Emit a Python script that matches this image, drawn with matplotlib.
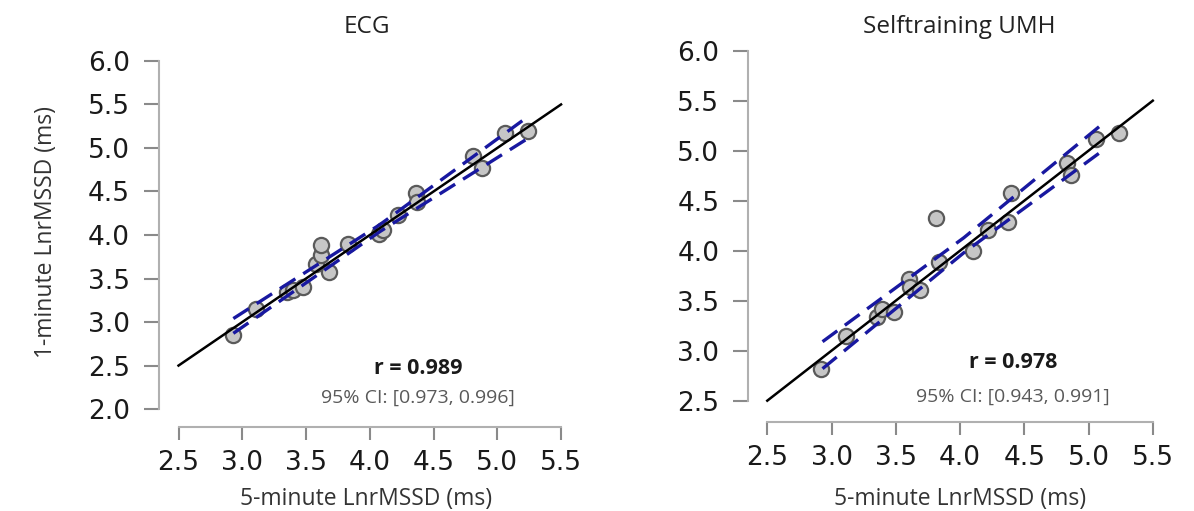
import matplotlib.pyplot as plt

# ECG panel data (5-minute vs 1-minute LnrMSSD)
ecg_x = [2.93, 3.11, 3.35, 3.40, 3.48, 3.58, 3.62, 3.62, 3.68, 3.83, 4.07, 4.10, 4.22, 4.36, 4.37, 4.81, 4.88, 5.06, 5.24]
ecg_y = [2.85, 3.15, 3.34, 3.37, 3.40, 3.67, 3.77, 3.88, 3.57, 3.90, 4.01, 4.06, 4.23, 4.48, 4.38, 4.91, 4.77, 5.17, 5.20]
ecg_band_x = [2.93, 4.08, 5.24]
ecg_upper = [3.04, 4.12, 5.36]
ecg_lower = [2.87, 4.04, 5.11]
ecg_r = "r = 0.989"
ecg_ci = "95% CI: [0.973, 0.996]"

# Selftraining UMH panel data
umh_x = [2.92, 3.11, 3.35, 3.39, 3.49, 3.60, 3.61, 3.69, 3.81, 3.84, 4.10, 4.22, 4.37, 4.40, 4.83, 4.86, 5.06, 5.24]
umh_y = [2.82, 3.15, 3.34, 3.42, 3.39, 3.72, 3.64, 3.61, 4.33, 3.89, 4.00, 4.21, 4.29, 4.58, 4.88, 4.76, 5.12, 5.18]
umh_band_x = [2.93, 4.03, 5.13]
umh_upper = [3.09, 4.13, 5.29]
umh_lower = [2.82, 3.98, 5.02]
umh_r = "r = 0.978"
umh_ci = "95% CI: [0.943, 0.991]"

identity_x = [2.5, 5.5]
identity_y = [2.5, 5.5]

x_ticks = [2.5, 3.0, 3.5, 4.0, 4.5, 5.0, 5.5]
ecg_y_ticks = [2.0, 2.5, 3.0, 3.5, 4.0, 4.5, 5.0, 5.5, 6.0]
umh_y_ticks = [2.5, 3.0, 3.5, 4.0, 4.5, 5.0, 5.5, 6.0]

W, H = 1194, 511
fig = plt.figure(figsize=(W / 100, H / 100), dpi=100)

label_font = "Open Sans"
tick_font = "DejaVu Sans"


def panel(rect, xs, ys, bx, up, lo, yticks, ylim, r_txt, ci_txt, txt_pos, offs):
    ax = fig.add_axes(rect)
    ax.scatter(xs, ys, s=120, facecolor="#c6c6c6", edgecolor="#5a5a5a", linewidth=1.6, zorder=2)
    ax.plot(bx, up, color="#1818a0", lw=2.4, linestyle=(0, (5.5, 2.8)), zorder=3)
    ax.plot(bx, lo, color="#1818a0", lw=2.4, linestyle=(0, (5.5, 2.8)), zorder=3)
    ax.plot(identity_x, identity_y, color="black", lw=1.8, zorder=4)
    ax.set_xlim(2.38, 5.62)
    ax.set_ylim(*ylim)
    ax.set_xticks(x_ticks)
    ax.set_yticks(yticks)
    ax.set_xticklabels([f"{v:.1f}" for v in x_ticks])
    ax.set_yticklabels([f"{v:.1f}" for v in yticks])
    ax.spines["top"].set_visible(False)
    ax.spines["right"].set_visible(False)
    ax.spines["left"].set_bounds(yticks[0], yticks[-1])
    ax.spines["bottom"].set_bounds(x_ticks[0], x_ticks[-1])
    ax.spines["left"].set_position(("outward", offs[0]))
    ax.spines["bottom"].set_position(("outward", offs[1]))
    for s in ("left", "bottom"):
        ax.spines[s].set_color("#b0b0b0")
        ax.spines[s].set_linewidth(1.5)
    ax.tick_params(axis="y", length=11, width=1.5, color="#8a8a8a", pad=10,
                   labelsize=19, labelcolor="#1a1a1a")
    ax.tick_params(axis="x", length=9.5, width=1.5, color="#8a8a8a", pad=7,
                   labelsize=19, labelcolor="#1a1a1a")
    for lab in ax.get_xticklabels() + ax.get_yticklabels():
        lab.set_fontfamily(tick_font)
    ax.patch.set_visible(False)
    ax.text(txt_pos[0], txt_pos[1], r_txt, ha="center", va="center", fontsize=15.5,
            fontweight="bold", fontfamily=label_font, color="#1a1a1a")
    ax.text(txt_pos[0], txt_pos[2], ci_txt, ha="center", va="center", fontsize=14,
            fontfamily=label_font, color="#595959")
    return ax


panel([0.1367, 0.1722, 0.346, 0.7358], ecg_x, ecg_y, ecg_band_x, ecg_upper, ecg_lower,
      ecg_y_ticks, (1.84, 6.16), ecg_r, ecg_ci, (4.38, 2.47, 2.13), (3, 3))
panel([0.6297, 0.1885, 0.3487, 0.7397], umh_x, umh_y, umh_band_x, umh_upper, umh_lower,
      umh_y_ticks, (2.36, 6.14), umh_r, umh_ci, (4.41, 2.88, 2.54), (2.5, 5))

fig.text(367 / W, 1 - 27 / H, "ECG", ha="center", va="center", fontsize=17.5, fontfamily=label_font, color="#222222")
fig.text(959 / W, 1 - 27 / H, "Selftraining UMH", ha="center", va="center", fontsize=17.5,
         fontfamily=label_font, color="#222222")
fig.text(366 / W, 1 - 499 / H, "5-minute LnrMSSD (ms)", ha="center", va="center", fontsize=16.5,
         fontfamily=label_font, color="#333333")
fig.text(960 / W, 1 - 499 / H, "5-minute LnrMSSD (ms)", ha="center", va="center", fontsize=16.5,
         fontfamily=label_font, color="#333333")
fig.text(46 / W, 1 - 232 / H, "1-minute LnrMSSD (ms)", ha="center", va="center", rotation=90,
         fontsize=16.5, fontfamily=label_font, color="#333333")

fig.savefig("out.png", dpi=100)
